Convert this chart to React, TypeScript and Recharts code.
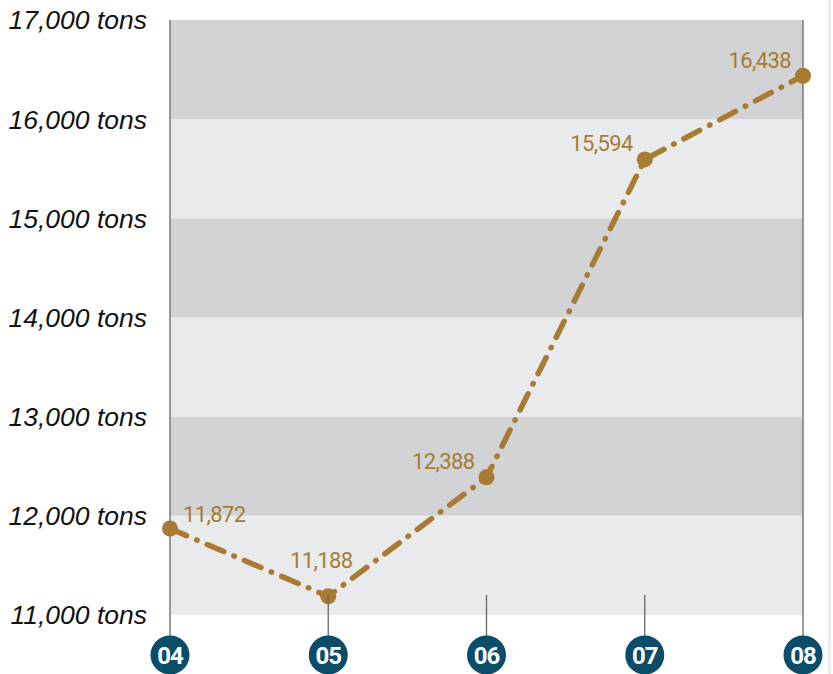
import React from 'react'
import { LineChart, Line, XAxis, YAxis, ReferenceArea, ReferenceLine, LabelList } from 'recharts'

const years = ['04', '05', '06', '07', '08']
const tonnage = [11872, 11188, 12388, 15594, 16438]
const yTicks = [11000, 12000, 13000, 14000, 15000, 16000, 17000]

const data = years.map((year, i) => ({ year, value: tonnage[i] }))

const GOLD = '#a97b32'
const TEAL = '#0b4d68'
const DARK_BAND = '#d2d3d5'
const LIGHT_BAND = '#e9eaec'

const fmt = (v: number) => v.toLocaleString('en-US')

// circled year badge with a short stem above it
const YearTick = (props: any) => {
  const { x, y, payload, index } = props
  const edge = index === 0 || index === years.length - 1
  return (
    <g>
      <line x1={x} x2={x} y1={edge ? y : y - 20} y2={y + 22} stroke="#666" strokeWidth={1.3} />
      <circle cx={x} cy={y + 40} r={19.5} fill={TEAL} />
      <text
        x={x}
        y={y + 40}
        dy="0.36em"
        textAnchor="middle"
        fill="#fff"
        fontFamily="'Liberation Sans Narrow', 'Roboto', sans-serif"
        fontWeight="bold"
        fontSize={24}
        letterSpacing={-1}
      >
        {payload.value}
      </text>
    </g>
  )
}

const ValueLabel = (props: any) => {
  const { x, y, value, index } = props
  let dx = -12
  let dy = -8
  let anchor: 'start' | 'middle' | 'end' = 'end'
  if (index === 0) {
    dx = 13
    dy = -7
    anchor = 'start'
  } else if (index === 1) {
    dx = -7
    dy = -28
    anchor = 'middle'
  }
  return (
    <text
      x={x + dx}
      y={y + dy}
      textAnchor={anchor}
      fill={GOLD}
      fontFamily="'Liberation Sans Narrow', 'Roboto', sans-serif"
      fontSize={22}
      letterSpacing={-0.6}
    >
      {fmt(value)}
    </text>
  )
}

export default function App() {
  const bands = yTicks.slice(0, -1).map((lo, i) => ({ lo, hi: yTicks[i + 1], fill: i % 2 === 0 ? LIGHT_BAND : DARK_BAND }))
  return (
    <div style={{ position: 'absolute', left: 0, top: 0, width: 833, height: 674, background: '#fff', overflow: 'hidden' }}>
      <LineChart width={833} height={674} data={data} margin={{ top: 20, right: 30, bottom: 0, left: 0 }}>
        {bands.map((b) => (
          <ReferenceArea key={b.lo} y1={b.lo} y2={b.hi} fill={b.fill} fillOpacity={1} stroke="none" ifOverflow="visible" />
        ))}
        <ReferenceLine x={years[0]} stroke="#666" strokeWidth={1.3} />
        <ReferenceLine x={years[years.length - 1]} stroke="#666" strokeWidth={1.3} />
        <XAxis
          dataKey="year"
          height={59}
          axisLine={false}
          tickLine={false}
          tickSize={0}
          tickMargin={0}
          interval={0}
          tick={<YearTick />}
        />
        <YAxis
          domain={[11000, 17000]}
          ticks={yTicks}
          width={170}
          axisLine={false}
          tickLine={false}
          tickSize={0}
          tickMargin={23}
          tickFormatter={(v: number) => `${fmt(v)} tons`}
          tick={{ fill: '#111', fontSize: 26.5, fontStyle: 'italic', fontFamily: "'Liberation Sans', Arial, sans-serif" }}
        />
        <Line
          type="linear"
          dataKey="value"
          stroke={GOLD}
          strokeWidth={5.5}
          strokeLinecap="round"
          strokeDasharray="18 11 0.5 11"
          dot={{ r: 8, fill: GOLD, stroke: 'none', strokeDasharray: '' }}
          activeDot={false}
          isAnimationActive={false}
        >
          <LabelList dataKey="value" content={<ValueLabel />} />
        </Line>
      </LineChart>
      <div style={{ position: 'absolute', left: 828, top: 0, width: 3, height: 674, background: '#ececec' }} />
    </div>
  )
}
